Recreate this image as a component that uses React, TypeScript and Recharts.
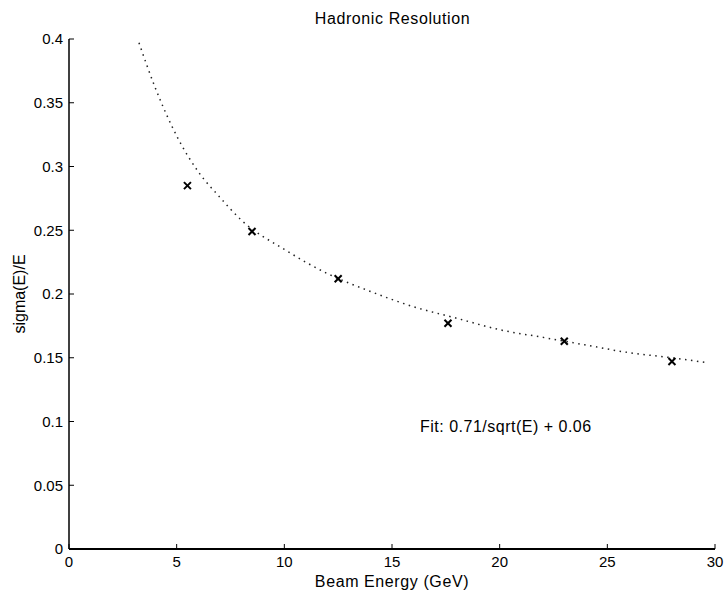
import React from 'react';
import { ComposedChart, Line, Scatter, XAxis, YAxis, Label } from 'recharts';

// measured points (beam energy in GeV, sigma(E)/E)
const energies = [5.5, 8.5, 12.5, 17.6, 23.0, 28.0];
const resolutions = [0.285, 0.249, 0.212, 0.177, 0.163, 0.147];

// dotted fit curve
const fitEnergies = [3.25, 4, 5, 6, 7, 8, 10, 12, 14, 16, 18, 20, 22, 24, 26, 28, 29.7];
const fitValues = [0.397, 0.362, 0.324, 0.296, 0.276, 0.258, 0.235, 0.216, 0.202, 0.19, 0.181, 0.172, 0.166, 0.16, 0.154, 0.15, 0.146];

const xTicks = [0, 5, 10, 15, 20, 25, 30];
const yTicks = [0, 0.05, 0.1, 0.15, 0.2, 0.25, 0.3, 0.35, 0.4];

const points = energies.map((e, i) => ({ e, r: resolutions[i] }));
const fit = fitEnergies.map((e, i) => ({ e, f: fitValues[i] }));

const FONT = 'Liberation Sans, Arial, Helvetica, sans-serif';

const Cross = (props: any) => {
  const { cx, cy } = props;
  const s = 3.5;
  return (
    <g stroke="#000" strokeWidth={2}>
      <line x1={cx - s} y1={cy - s} x2={cx + s} y2={cy + s} />
      <line x1={cx - s} y1={cy + s} x2={cx + s} y2={cy - s} />
    </g>
  );
};

const App = () => {
  return (
    <div style={{ position: 'absolute', left: 0, top: 0, width: 725, height: 594, background: '#fff', fontFamily: FONT }}>
      <div style={{ position: 'absolute', left: 0, width: 725, top: 10, textAlign: 'center', marginLeft: 30, fontSize: 16, letterSpacing: 0.6, color: '#000' }}>
        Hadronic Resolution
      </div>
      <div style={{ position: 'absolute', left: 420, top: 418, fontSize: 16, letterSpacing: 0.5, color: '#000', whiteSpace: 'nowrap' }}>
        Fit: 0.71/sqrt(E) + 0.06
      </div>
      <ComposedChart width={725} height={594} margin={{ top: 39, right: 10, bottom: 0, left: 0 }}>
        <XAxis
          type="number"
          dataKey="e"
          domain={[0, 30]}
          ticks={xTicks}
          allowDataOverflow
          height={45}
          stroke="#000"
          axisLine={{ stroke: '#000', strokeWidth: 2 }}
          tickLine={{ stroke: '#000' }}
          tickSize={-5}
          tickMargin={12}
          tick={{ fill: '#000', fontSize: 15, fontFamily: FONT }}
        >
          <Label value="Beam Energy (GeV)" position="insideBottom" offset={7} style={{ fill: '#000', fontSize: 16, letterSpacing: 0.6, fontFamily: FONT }} />
        </XAxis>
        <YAxis
          type="number"
          domain={[0, 0.4]}
          ticks={yTicks}
          allowDataOverflow
          width={69}
          stroke="#000"
          axisLine={{ stroke: '#000', strokeWidth: 1.5 }}
          tickLine={{ stroke: '#000' }}
          tickSize={-5}
          tickMargin={11}
          tick={{ fill: '#000', fontSize: 15, fontFamily: FONT }}
        >
          <Label
            value="sigma(E)/E"
            angle={-90}
            position="insideLeft"
            offset={19}
            style={{ fill: '#000', fontSize: 16, fontFamily: FONT, textAnchor: 'middle' }}
          />
        </YAxis>
        <Line
          data={fit}
          dataKey="f"
          type="monotone"
          stroke="#222"
          strokeWidth={1.5}
          strokeDasharray="1.5 4.5"
          dot={false}
          activeDot={false}
          isAnimationActive={false}
        />
        <Scatter data={points} dataKey="r" shape={<Cross />} isAnimationActive={false} />
      </ComposedChart>
    </div>
  );
};

export default App;
